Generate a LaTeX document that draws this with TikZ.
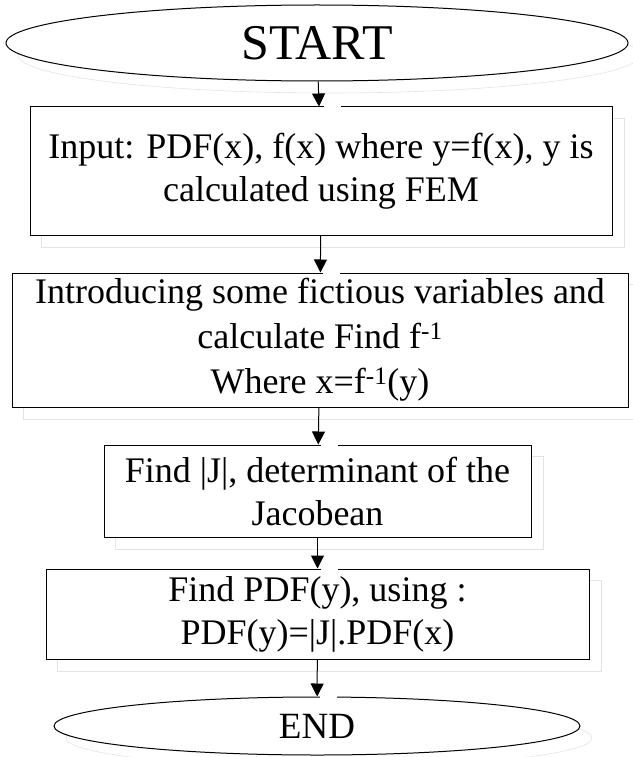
\documentclass[tikz,border=0pt]{standalone}
\usepackage{fontspec}
\setmainfont{Liberation Serif}
\usetikzlibrary{shapes.geometric,arrows.meta,backgrounds}

\begin{document}
\begin{tikzpicture}[x=1pt,y=-1pt,
  stepbox/.style={draw=black,line width=1pt,fill=white,rectangle,inner sep=0pt,
    align=center,font=\fontsize{36}{43}\selectfont},
  terminal/.style={draw=black,line width=1pt,fill=white,ellipse,inner sep=0pt},
  flow/.style={line width=1pt,-{Triangle[length=13pt,width=13pt]}},
  ghost/.style={draw=gray!22,line width=0.6pt},
  notch/.style={fill=white}]
\useasboundingbox (0,0) rectangle (632,757);

% terminals and process steps
\node[terminal,minimum width=622pt,minimum height=76pt,
      font=\fontsize{50}{54}\selectfont] (start) at (317,43) {START};
\node[stepbox,minimum width=582pt,minimum height=128pt] (b1) at (321,171)
  {Input: PDF(x), f(x) where y=f(x), y is\\calculated using FEM};
\node[stepbox,minimum width=616pt,minimum height=134pt,
      font=\fontsize{36}{45}\selectfont] (b2) at (320,340)
  {Introducing some fictious variables and\\calculate Find f\textsuperscript{-1}\\Where x=f\textsuperscript{-1}(y)};
\node[stepbox,minimum width=427pt,minimum height=92pt] (b3) at (317.5,491)
  {Find |J|, determinant of the\\Jacobean};
\node[stepbox,minimum width=543pt,minimum height=90pt] (b4) at (317.5,614)
  {Find PDF(y), using :\\PDF(y)=|J|.PDF(x)};
\node[terminal,minimum width=526pt,minimum height=58pt,
      font=\fontsize{37}{40}\selectfont] (end) at (317,726) {END};

% faint drop-shadow outlines behind every shape
\begin{scope}[on background layer]
  \draw[ghost] ([shift={(12,12)}]start.center) ellipse [x radius=311pt, y radius=38pt];
  \foreach \b in {b1,b2,b3,b4}
    \draw[ghost] ([shift={(12,12)}]\b.north west) rectangle ([shift={(12,12)}]\b.south east);
  \draw[ghost] ([shift={(12,12)}]end.center) ellipse [x radius=263pt, y radius=29pt];
\end{scope}

% connectors
\draw[flow] (start) -- (b1);
\draw[flow] (b1) -- (b2);
\draw[flow] (b2) -- (b3);
\draw[flow] (b3) -- (b4);
\draw[flow] (b4) -- (end);

% small breaks in the borders right of each arrow tip
\foreach \n in {b1,b2,b3,b4,end}
  \fill[notch] ([shift={(3,-2)}]\n.north) rectangle ([shift={(20,2)}]\n.north);
\end{tikzpicture}
\end{document}
